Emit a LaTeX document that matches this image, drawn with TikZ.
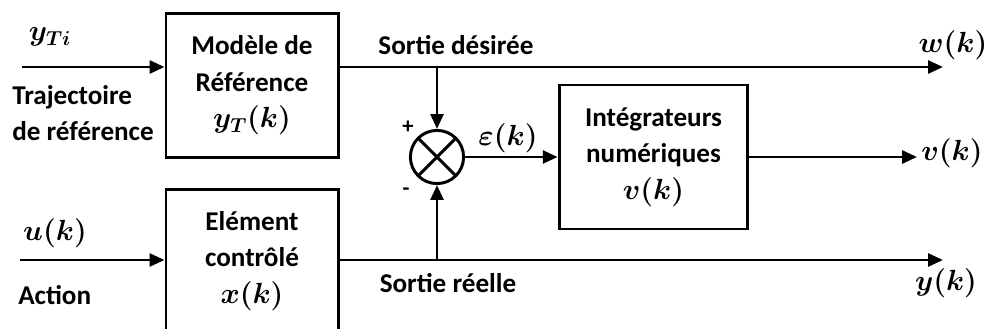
\documentclass[tikz,border=0pt]{standalone}
\usepackage{amsmath,bm}
\usepackage{fontspec}
\setmainfont{Carlito}
\usetikzlibrary{arrows.meta,calc,positioning}
\newcommand{\sigm}[1]{{\fontsize{21}{26}\selectfont$\bm{#1}$}}
\tikzset{
  signal/.style={-{Triangle[length=0.37cm,width=0.32cm]}, line width=2.1pt, draw=black},
  txt/.style={font=\fontsize{19.3}{26}\selectfont\bfseries, inner sep=0pt},
  block/.style={txt, draw=black, line width=2.1pt, rectangle, align=center, fill=none},
  sum/.style={
    draw=black, line width=2.1pt, circle, minimum size=1.33cm, inner sep=0pt, fill=none,
    path picture={
      \draw[black, line width=2.1pt]
        (path picture bounding box.south west) -- (path picture bounding box.north east)
        (path picture bounding box.north west) -- (path picture bounding box.south east);
    }
  },
  sign/.style={font=\fontsize{16}{18}\selectfont\bfseries, inner sep=0pt}
}
\begin{document}
\begin{tikzpicture}[x=0.025cm, y=-0.025cm]
  \clip (0,0) rectangle (987,329);
  \node[block, minimum width=4.3cm, minimum height=3.58cm] (ref) at (252,85.5) {Modèle de\\Référence\\\sigm{y_T(k)}};
  \node[block, minimum width=4.3cm, minimum height=3.58cm] (ctrl) at (252,261) {Elément\\contrôlé\\\sigm{x(k)}};
  \node[sum] (sum1) at (437,157) {};
  \node[block, minimum width=4.72cm, minimum height=3.6cm] (integ) at (653.5,157) {Intégrateurs\\numériques\\\sigm{v(k)}};

  \coordinate (yin) at (22,67);
  \coordinate (uin) at (20,260);
  \coordinate (bw) at (437,67);
  \coordinate (by) at (437,260);
  \coordinate (wout) at (943,67);
  \coordinate (vout) at (917,157);
  \coordinate (yout) at (943,260);

  \draw[signal] (yin) -- (yin -| ref.west);
  \draw[signal] (uin) -- (uin -| ctrl.west);
  \draw[signal] (wout -| ref.east) -- (wout);
  \draw[signal] (yout -| ctrl.east) -- (yout);
  \draw[signal] (bw) -- (sum1.north);
  \draw[signal] (by) -- (sum1.south);
  \draw[signal] (sum1.east) -- (integ.west);
  \draw[signal] (integ.east) -- (vout);

  \node[txt] (ytilbl) at (50,37) {\sigm{y_{Ti}}};
  \node[txt, anchor=west, align=left] (trajlbl) at (12,113) {Trajectoire\\de référence};
  \node[txt] (ulbl) at (55,233) {\sigm{u(k)}};
  \node[txt, anchor=west] (actlbl) at (18,295) {Action};
  \node[txt] (sdlbl) at (456,45) {Sortie désirée};
  \node[txt] (srlbl) at (448,283) {Sortie réelle};
  \node[txt] (eplbl) at (508,138) {\sigm{\varepsilon(k)}};
  \node[txt] (wlbl) at (953,45) {\sigm{w(k)}};
  \node[txt] (vlbl) at (952,153) {\sigm{v(k)}};
  \node[txt] (ylbl) at (946,283) {\sigm{y(k)}};
  \node[sign] (plus) at (408,127) {+};
  \node[sign] (minus) at (406,192) {-};
\end{tikzpicture}
\end{document}
